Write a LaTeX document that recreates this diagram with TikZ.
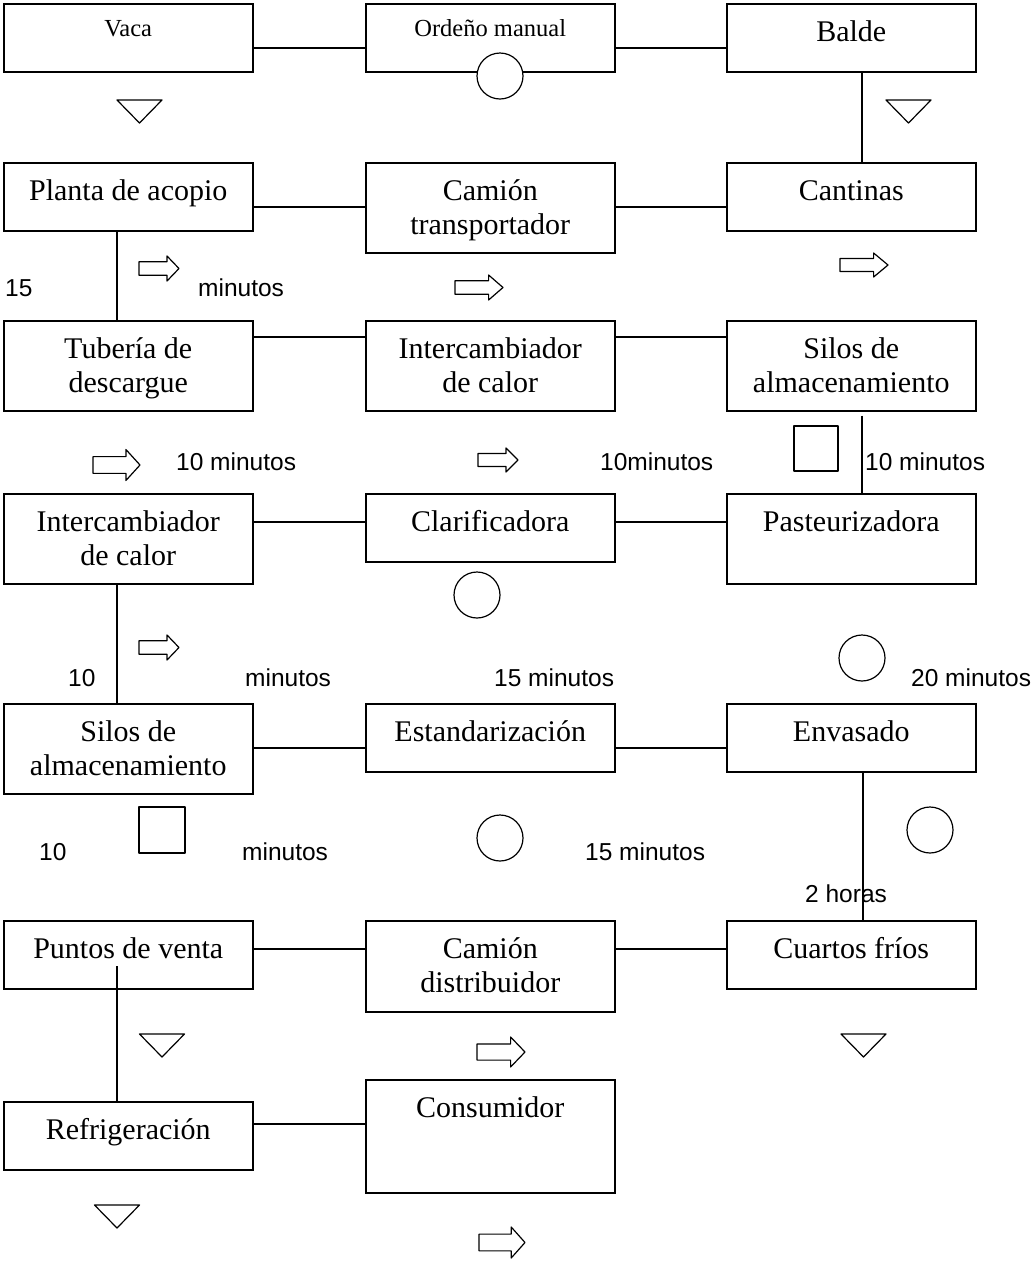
\documentclass[tikz,border=0pt]{standalone}
\usepackage{fontspec}
\setmainfont{Liberation Serif}
\newfontfamily\sansf{Liberation Sans}
\begin{document}
\begin{tikzpicture}[x=1pt,y=-1pt,
  pbox/.style={draw, line width=1.5pt, anchor=north west, minimum width=249pt, minimum height=#1, inner sep=0pt},
  btxt/.style={anchor=base, inner sep=0pt, font=\fontsize{30}{34.5}\selectfont},
  stxt/.style={anchor=base, inner sep=0pt, font=\fontsize{24.5}{28}\selectfont},
  lbl/.style={anchor=base west, inner sep=0pt, font=\sansf\fontsize{24.5}{28}\selectfont},
  conn/.style={line width=1.2pt},
  symb/.style={line width=1.2pt, fill=white, line join=round}]
\useasboundingbox (0,0) rectangle (1034,1262);
\newcommand{\twol}[2]{\begin{tabular}[t]{@{}c@{}}#1\\#2\end{tabular}}

% boxes
\node[pbox=68pt] (vaca) at (3,3) {};
\node[pbox=68pt] (ordeno) at (365,3) {};
\node[pbox=68pt] (balde) at (726,3) {};
\node[pbox=68pt] (planta) at (3,162) {};
\node[pbox=90pt] (camiont) at (365,162) {};
\node[pbox=68pt] (cantinas) at (726,162) {};
\node[pbox=90pt] (tuberia) at (3,320) {};
\node[pbox=90pt] (intercm) at (365,320) {};
\node[pbox=90pt] (silosr) at (726,320) {};
\node[pbox=90pt] (intercl) at (3,493) {};
\node[pbox=68pt] (clarif) at (365,493) {};
\node[pbox=90pt] (pasteur) at (726,493) {};
\node[pbox=90pt] (silosl) at (3,703) {};
\node[pbox=68pt] (estand) at (365,703) {};
\node[pbox=68pt] (envas) at (726,703) {};
\node[pbox=68pt] (puntos) at (3,920) {};
\node[pbox=91pt] (camiond) at (365,920) {};
\node[pbox=68pt] (cuartos) at (726,920) {};
\node[pbox=68pt] (refrig) at (3,1101) {};
\node[pbox=113pt] (consum) at (365,1079) {};

% box texts
\node[stxt] (vacat) at ([yshift=-33pt]vaca.north) {Vaca};
\node[stxt] (ordenot) at ([yshift=-33pt]ordeno.north) {Ordeño manual};
\node[btxt] (baldet) at ([yshift=-38pt]balde.north) {Balde};
\node[btxt] (plantat) at ([yshift=-38pt]planta.north) {Planta de acopio};
\node[btxt] (camiontt) at ([yshift=-38pt]camiont.north) {\twol{Camión}{transportador}};
\node[btxt] (cantinast) at ([yshift=-38pt]cantinas.north) {Cantinas};
\node[btxt] (tuberiat) at ([yshift=-38pt]tuberia.north) {\twol{Tubería de}{descargue}};
\node[btxt] (intercmt) at ([yshift=-38pt]intercm.north) {\twol{Intercambiador}{de calor}};
\node[btxt] (silosrt) at ([yshift=-38pt]silosr.north) {\twol{Silos de}{almacenamiento}};
\node[btxt] (interclt) at ([yshift=-38pt]intercl.north) {\twol{Intercambiador}{de calor}};
\node[btxt] (clarift) at ([yshift=-38pt]clarif.north) {Clarificadora};
\node[btxt] (pasteurt) at ([yshift=-38pt]pasteur.north) {Pasteurizadora};
\node[btxt] (silosit) at ([yshift=-38pt]silosl.north) {\twol{Silos de}{almacenamiento}};
\node[btxt] (estandt) at ([yshift=-38pt]estand.north) {Estandarización};
\node[btxt] (envast) at ([yshift=-38pt]envas.north) {Envasado};
\node[btxt] (puntost) at ([yshift=-38pt]puntos.north) {Puntos de venta};
\node[btxt] (camiondt) at ([yshift=-38pt]camiond.north) {\twol{Camión}{distribuidor}};
\node[btxt] (cuartost) at ([yshift=-38pt]cuartos.north) {Cuartos fríos};
\node[btxt] (refrigt) at ([yshift=-38pt]refrig.north) {Refrigeración};
\node[btxt] (consumt) at ([yshift=-38pt]consum.north) {Consumidor};

% horizontal connectors
\draw[conn] (vaca.east |- 0,48) -- (ordeno.west |- 0,48);
\draw[conn] (ordeno.east |- 0,48) -- (balde.west |- 0,48);
\draw[conn] (planta.east |- 0,207) -- (camiont.west |- 0,207);
\draw[conn] (camiont.east |- 0,207) -- (cantinas.west |- 0,207);
\draw[conn] (tuberia.east |- 0,337) -- (intercm.west |- 0,337);
\draw[conn] (intercm.east |- 0,337) -- (silosr.west |- 0,337);
\draw[conn] (intercl.east |- 0,522) -- (clarif.west |- 0,522);
\draw[conn] (clarif.east |- 0,522) -- (pasteur.west |- 0,522);
\draw[conn] (silosl.east |- 0,748) -- (estand.west |- 0,748);
\draw[conn] (estand.east |- 0,748) -- (envas.west |- 0,748);
\draw[conn] (puntos.east |- 0,949) -- (camiond.west |- 0,949);
\draw[conn] (camiond.east |- 0,949) -- (cuartos.west |- 0,949);
\draw[conn] (refrig.east |- 0,1124) -- (consum.west |- 0,1124);

% vertical connectors
\draw[conn] (balde.south -| 862,0) -- (cantinas.north -| 862,0);
\draw[conn] (planta.south -| 117,0) -- (tuberia.north -| 117,0);
\draw[conn, shorten <=4pt] (silosr.south -| 862,0) -- (pasteur.north -| 862,0);
\draw[conn] (intercl.south -| 117,0) -- (silosl.north -| 117,0);
\coordinate (cfin) at (863,920);
\draw[conn] (envas.south -| cfin) -- (cfin);
\coordinate (pvin) at (117,966);
\draw[conn] (pvin) -- (refrig.north -| pvin);

% operation circles
\draw[symb] (500,76) circle[radius=23];
\draw[symb] (477,595) circle[radius=23];
\draw[symb] (862,658) circle[radius=23];
\draw[symb] (500,838) circle[radius=23];
\draw[symb] (930,830) circle[radius=23];

% storage triangles
\draw[symb] (117,100) -- (162,100) -- (139.5,123) -- cycle;
\draw[symb] (886,100) -- (931,100) -- (908.5,123) -- cycle;
\draw[symb] (139.5,1034) -- (184.5,1034) -- (162,1057) -- cycle;
\draw[symb] (841,1034) -- (886,1034) -- (863.5,1057) -- cycle;
\draw[symb] (94.5,1205) -- (139.5,1205) -- (117,1228) -- cycle;

% inspection squares
\draw[symb] (794,426) rectangle (838,471);
\draw[symb] (139,807) rectangle (185,853);

% transport arrows
\newcommand{\blkarrow}[4]{%
  \draw[symb, shift={(#1,#2)}, xscale=#3, yscale=#4]
    (-0.5,-0.27) -- (0.2,-0.27) -- (0.2,-0.5) -- (0.5,0) -- (0.2,0.5) -- (0.2,0.27) -- (-0.5,0.27) -- cycle;}
\blkarrow{159}{268.5}{40}{25}
\blkarrow{479}{287.5}{48}{25}
\blkarrow{864}{265}{48}{24}
\blkarrow{116.5}{465}{47}{31}
\blkarrow{498}{460}{40}{24}
\blkarrow{159}{647.5}{40}{25}
\blkarrow{501}{1052}{48}{30}
\blkarrow{502}{1242.5}{46}{31}

% time labels
\node[lbl] (l1) at (5,296) {15};
\node[lbl] (l2) at (198,296) {minutos};
\node[lbl] (l3) at (176,470) {10 minutos};
\node[lbl] (l4) at (600,470) {10minutos};
\node[lbl] (l5) at (865,470) {10 minutos};
\node[lbl] (l6) at (68,686.5) {10};
\node[lbl] (l7) at (245,686.5) {minutos};
\node[lbl] (l8) at (494,686.5) {15 minutos};
\node[lbl] (l9) at (911,686.5) {20 minutos};
\node[lbl] (l10) at (39,860) {10};
\node[lbl] (l11) at (242,860) {minutos};
\node[lbl] (l12) at (585,860) {15 minutos};
\node[lbl] (l13) at (805,902) {2 horas};
\end{tikzpicture}
\end{document}
